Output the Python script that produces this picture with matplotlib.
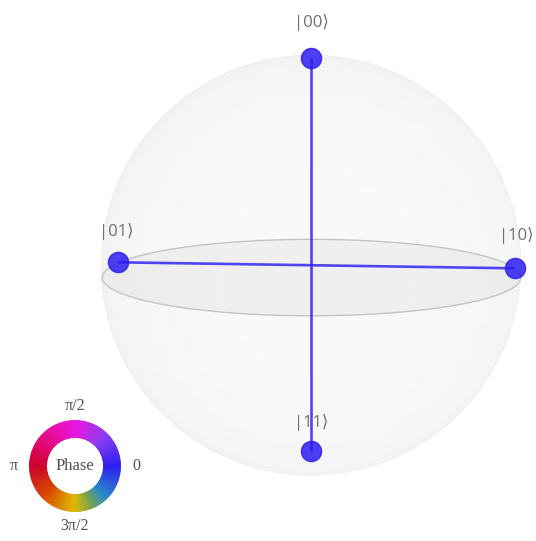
import numpy as np
import matplotlib
matplotlib.use("Agg")
import matplotlib.pyplot as plt
from matplotlib.colors import LinearSegmentedColormap
from mpl_toolkits.mplot3d.art3d import Poly3DCollection

# two-qubit state on the q-sphere: equal superposition, all phases zero
states = ['00', '01', '10', '11']
probs = [0.25, 0.25, 0.25, 0.25]
phases = [0.0, 0.0, 0.0, 0.0]

# phase wheel legend
wheel_ticks = [0, np.pi / 2, np.pi, 3 * np.pi / 2]
wheel_labels = ['0', 'π/2', 'π', '3π/2']
wheel_stops = [0.0, 0.125, 0.25, 0.375, 0.5, 0.625, 0.75, 0.8125, 0.875, 1.0]
wheel_colors = ['#2c1ef0', '#8c3cf0', '#eb14e1', '#e60a8c', '#cd002d',
                '#d74600', '#e1b900', '#78a546', '#288cc8', '#2c1ef0']

W, H = 536, 541
ELEV, AZIM, FOCAL = 10, 275, 0.175
phase_cmap = LinearSegmentedColormap.from_list('phase', list(zip(wheel_stops, wheel_colors)))


def qsphere_xyz(bits):
    # same layout rule as the qiskit q-sphere: hamming weight sets latitude
    n = len(bits)
    w = bits.count('1')
    z = 1 - 2 * w / n
    same = [s for s in states if s.count('1') == w]
    ang = 2 * np.pi * w / n + 2 * np.pi * same.index(bits) / len(same)
    r = np.sqrt(max(0.0, 1 - z ** 2))
    return r * np.cos(ang), r * np.sin(ang), z


fig = plt.figure(figsize=(W / 100, H / 100), dpi=100)
S0 = 500
ax = fig.add_axes([0.03, 0.03, S0 / W, S0 / H], projection='3d', computed_zorder=False)
ax.set_xlim(-1, 1)
ax.set_ylim(-1, 1)
ax.set_zlim(-1, 1)
ax.set_box_aspect((1, 1, 1))
ax.set_proj_type('persp', focal_length=FOCAL)
ax.view_init(elev=ELEV, azim=AZIM)
ax.set_axis_off()

# sphere, shaded by hand: light inside, a faint grey rim; back half left out
u = np.linspace(0, 2 * np.pi, 91)
v = np.linspace(0, np.pi, 46)
sx = np.outer(np.cos(u), np.sin(v))
sy = np.outer(np.sin(u), np.sin(v))
sz = np.outer(np.ones_like(u), np.cos(v))
e, a = np.deg2rad(ELEV), np.deg2rad(AZIM)
cam = (10 * FOCAL / 0.55) * np.array([np.cos(e) * np.cos(a), np.cos(e) * np.sin(a), np.sin(e)])
dx, dy, dz = cam[0] - sx, cam[1] - sy, cam[2] - sz
facing = (sx * dx + sy * dy + sz * dz) / np.sqrt(dx ** 2 + dy ** 2 + dz ** 2)
grey = 0.927 + 0.05 * np.clip(facing, 0, 1) ** 0.35
alpha = np.where(facing > -0.2, 1.0, 0.0)
fc = np.stack([grey, grey, grey, alpha], axis=-1)
# with facecolors given, plot_surface paints each edge like its face
ax.plot_surface(sx, sy, sz, facecolors=fc, rstride=1, cstride=1, shade=False,
                linewidth=0.9, antialiased=True, zorder=1)

# equator disc
th = np.linspace(0, 2 * np.pi, 240)
ring = list(zip(np.cos(th), np.sin(th), np.zeros_like(th)))
disc = Poly3DCollection([ring], facecolor=(0.55, 0.55, 0.55, 0.085),
                        edgecolor=(0.77, 0.77, 0.77, 1.0), linewidth=1.0, zorder=2)
ax.add_collection3d(disc)

fig.canvas.draw()


def to_px(p):
    vec = ax.M @ np.array([p[0], p[1], p[2], 1.0])
    return ax.transData.transform((vec[0] / vec[3], vec[1] / vec[3]))


# scale and shift the 3d axes so the sphere lands where the reference has it
north = to_px((0, 0, 1))
south = to_px((0, 0, -1))
orig = to_px((0, 0, 0))
pos = ax.get_position()
acx = (pos.x0 + pos.width / 2) * W
acy = (pos.y0 + pos.height / 2) * H
k = (483 - 90) / (north[1] - south[1])
S = S0 * k
ncx = 311 - k * (orig[0] - acx)
ncy = 483 - k * (north[1] - acy)
ax.set_position([(ncx - S / 2) / W, (ncy - S / 2) / H, S / W, S / H])

label_off = 0.16
for bits, p, ph in zip(states, probs, phases):
    x, y, z = qsphere_xyz(bits)
    col = phase_cmap((ph % (2 * np.pi)) / (2 * np.pi))
    ax.plot([0, x], [0, y], [0, z], color=col, lw=1.9, alpha=0.82, zorder=3,
            solid_capstyle='butt')
    ax.plot([x], [y], [z], marker='o', markersize=np.sqrt(p) * 29,
            markerfacecolor=col, markeredgecolor=col, alpha=0.85, zorder=4)
    # label: projected 2d position just above the point
    vec = ax.M @ np.array([x, y, z + label_off, 1.0])
    ax.text2D(vec[0] / vec[3], vec[1] / vec[3], '|' + bits + '⟩', transform=ax.transData,
              ha='center', va='center', fontsize=12, color='#707070',
              family=['Open Sans', 'DejaVu Sans'], zorder=2.5)

# phase wheel
R_out, R_in = 45.5, 28.5
ax2 = fig.add_axes([0, (H - 466 - 75) / H, 150 / W, 150 / H])
n = 120
cols = phase_cmap((np.arange(n) + 0.5) / n)
wedges, _ = ax2.pie(np.ones(n), colors=cols, startangle=0, counterclock=True,
                    radius=R_out, wedgeprops=dict(width=R_out - R_in, linewidth=0.6))
for wd, c in zip(wedges, cols):
    wd.set_edgecolor(c)
ax2.set_xlim(-75, 75)
ax2.set_ylim(-75, 75)
ax2.set_aspect('equal')
ax2.axis('off')
ax2.text(0, 0, 'Phase', ha='center', va='center', fontsize=12,
         family='Liberation Serif', color='#505050')
for t, lab in zip(wheel_ticks, wheel_labels):
    ax2.text(61.5 * np.cos(t), 60 * np.sin(t), lab, ha='center', va='center',
             fontsize=11.5, family='Liberation Serif', color='#505050')

fig.savefig('out.png', dpi=100)
